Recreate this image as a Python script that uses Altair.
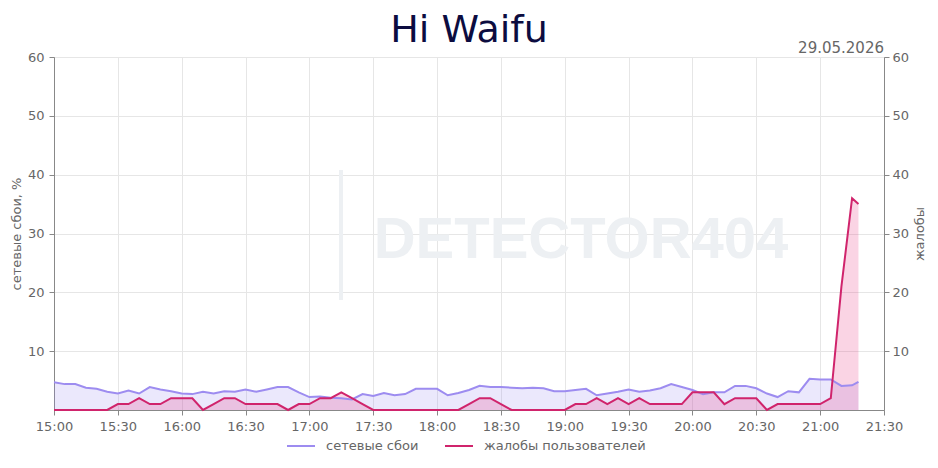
import pandas as pd
import altair as alt

TITLE = "Hi Waifu"
DATE_LABEL = "29.05.2026"
WATERMARK = "DETECTOR404"
SERIES = ["сетевые сбои", "жалобы пользователей"]
LEFT_TITLE = "сетевые сбои, %"
RIGHT_TITLE = "жалобы"

# sampling times: every 5 minutes from 15:00 to 21:15, plus the last reading at 21:18
times = [t.strftime("%Y-%m-%dT%H:%M:00") for t in
         pd.date_range("2026-05-29 15:00", "2026-05-29 21:15", freq="5min")]
times.append("2026-05-29T21:18:00")

network = [4.7, 4.4, 4.4, 3.8, 3.6, 3.1, 2.8, 3.3, 2.8, 3.9,
           3.5, 3.2, 2.8, 2.7, 3.1, 2.8, 3.2, 3.1, 3.5, 3.1,
           3.5, 3.9, 3.9, 3.0, 2.2, 2.3, 2.1, 2.0, 1.8, 2.7,
           2.4, 2.9, 2.5, 2.7, 3.6, 3.6, 3.6, 2.5, 2.9, 3.4,
           4.1, 3.9, 3.9, 3.8, 3.7, 3.8, 3.7, 3.2, 3.2, 3.4,
           3.6, 2.5, 2.8, 3.1, 3.5, 3.1, 3.3, 3.7, 4.4, 3.9,
           3.4, 2.7, 3.0, 3.0, 4.1, 4.1, 3.7, 2.8, 2.2, 3.2,
           3.0, 5.3, 5.2, 5.2, 4.1, 4.2, 4.8]

complaints = [0, 0, 0, 0, 0, 0, 1, 1, 2, 1,
              1, 2, 2, 2, 0, 1, 2, 2, 1, 1,
              1, 1, 0, 1, 1, 2, 2, 3, 2, 1,
              0, 0, 0, 0, 0, 0, 0, 0, 0, 1,
              2, 2, 1, 0, 0, 0, 0, 0, 0, 1,
              1, 2, 1, 2, 1, 2, 1, 1, 1, 1,
              3, 3, 3, 1, 2, 2, 2, 0, 1, 1,
              1, 1, 1, 2, 21, 36, 35]

# x-axis ticks every half hour
tick_times = [(15, 0), (15, 30), (16, 0), (16, 30), (17, 0), (17, 30), (18, 0),
              (18, 30), (19, 0), (19, 30), (20, 0), (20, 30), (21, 0), (21, 30)]
y_ticks = [10, 20, 30, 40, 50, 60]

PURPLE = "#9d8cf0"
RED = "#d0246c"
GRAY = "#666666"
WM_COLOR = "#edf0f3"


def dt(h, m):
    return alt.DateTime(year=2026, month=5, date=29, hours=h, minutes=m)


df = pd.DataFrame({"t": times, "net": network, "comp": complaints})
df["s_net"] = SERIES[0]
df["s_comp"] = SERIES[1]

x_enc = alt.X("t:T", scale=alt.Scale(domain=[dt(15, 0), dt(21, 30)]),
              axis=alt.Axis(format="%H:%M", values=[dt(h, m) for h, m in tick_times],
                            title=None, labelFlush=False, labelOverlap=False,
                            grid=True, gridColor="#e6e6e6", labelPadding=5))

color_scale = alt.Scale(domain=SERIES, range=[PURPLE, RED])
legend = alt.Legend(title=None, orient="none", legendX=232, legendY=374,
                    direction="horizontal", symbolType="stroke", symbolSize=784,
                    symbolStrokeWidth=2, labelFontSize=13, labelColor=GRAY,
                    labelOffset=10, columnPadding=22, labelLimit=400,
                    labelFont="DejaVu Sans")

yscale = alt.Scale(domain=[0, 60], nice=False)
base = alt.Chart(df)

net_area = base.mark_area(color=PURPLE, opacity=0.2).encode(
    x=x_enc, y=alt.Y("net:Q", scale=yscale, axis=None))
net_line = base.mark_line(strokeWidth=2).encode(
    x=x_enc,
    y=alt.Y("net:Q", scale=yscale,
            axis=alt.Axis(values=y_ticks, title=LEFT_TITLE, grid=True, gridColor="#e6e6e6",
                          labelFlush=False, titlePadding=4, labelPadding=5)),
    color=alt.Color("s_net:N", scale=color_scale, legend=legend))

comp_area = base.mark_area(color="#e8277a", opacity=0.2).encode(
    x=x_enc, y=alt.Y("comp:Q", scale=yscale, axis=None))
comp_line = base.mark_line(strokeWidth=2).encode(
    x=x_enc,
    y=alt.Y("comp:Q", scale=yscale,
            axis=alt.Axis(values=y_ticks, title=RIGHT_TITLE, orient="right", grid=False,
                          titleAngle=270, titleBaseline="top",
                          labelFlush=False, titlePadding=5, labelPadding=3)),
    color=alt.Color("s_comp:N", scale=color_scale, legend=legend))

wm = alt.Chart(pd.DataFrame({"w": [WATERMARK]})).mark_text(
    font="Liberation Sans", fontWeight="bold", fontSize=58, color=WM_COLOR,
    align="center", baseline="middle").encode(
    text="w:N", x=alt.value(527), y=alt.value(184))

wm_bar = alt.Chart(pd.DataFrame({"w": [WATERMARK]})).mark_rule(
    color=WM_COLOR, strokeWidth=4).encode(
    x=alt.value(287), y=alt.value(113), y2=alt.value(243))

date_txt = alt.Chart(pd.DataFrame({"d": [DATE_LABEL]})).mark_text(
    font="DejaVu Sans", fontSize=15, color=GRAY, align="right", baseline="alphabetic").encode(
    text="d:N", x=alt.value(830), y=alt.value(-4))

chart = alt.layer(wm, wm_bar, net_area, comp_area, net_line, comp_line, date_txt).resolve_scale(
    y="independent").properties(
    width=830, height=353,
    title=alt.TitleParams(TITLE, fontSize=38, color="#0c0c40", font="DejaVu Sans",
                          fontWeight="normal", anchor="middle", offset=-9),
    autosize=alt.AutoSizeParams(type="none"),
    padding={"left": 46, "top": 49, "right": 46, "bottom": 44},
).configure_view(stroke="#888888", strokeWidth=1).configure_axis(
    labelFont="DejaVu Sans", labelFontSize=13, labelColor=GRAY,
    titleFont="DejaVu Sans", titleFontSize=13, titleFontWeight="normal", titleColor=GRAY,
    domainColor="#888888", tickColor="#888888", tickSize=5,
)

chart.save("out.html", embed_options={"renderer": "svg", "actions": False})
